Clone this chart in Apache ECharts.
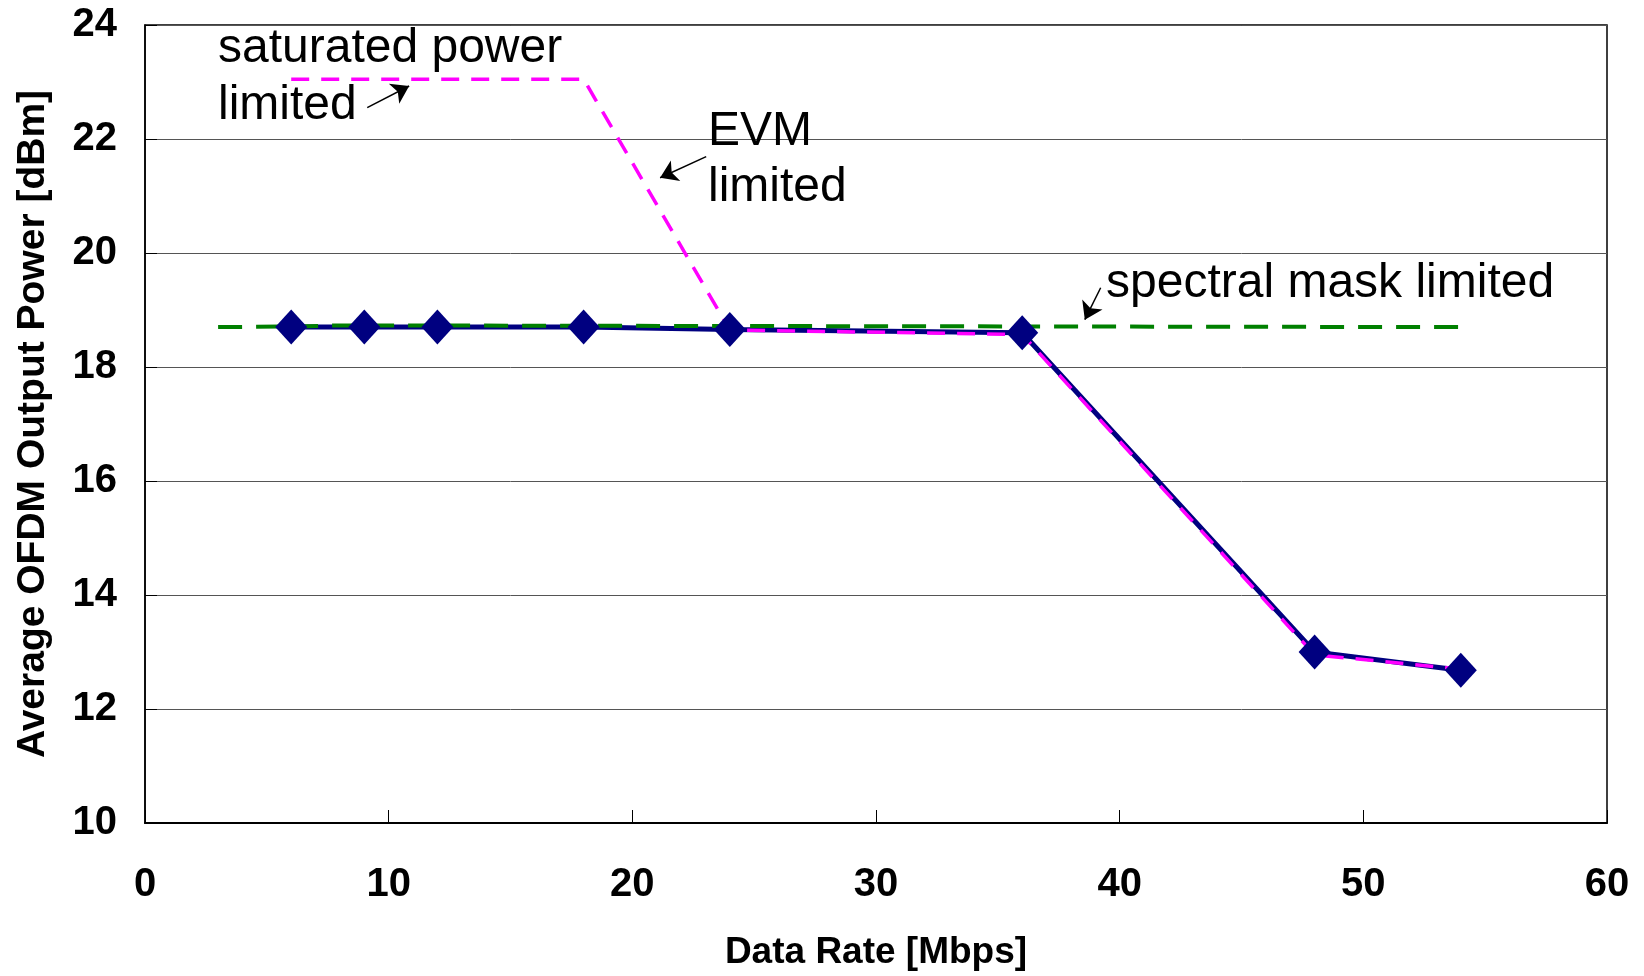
<!DOCTYPE html>
<html>
<head>
<meta charset="utf-8">
<script src="https://cdn.jsdelivr.net/npm/echarts@6/dist/echarts.min.js"></script>
<style>
html,body{margin:0;padding:0;background:#fff;}
#chart{width:1644px;height:976px;}
</style>
</head>
<body>
<div id="chart"></div>
<script>
// ---- data ----
const measuredRate  = [6, 9, 12, 18, 24, 36, 48, 54];
const measuredPower = [18.7, 18.7, 18.7, 18.7, 18.66, 18.6, 13.0, 12.68];

const evmRate  = [6, 18, 24, 36, 48, 54];
const evmPower = [23.05, 23.05, 18.65, 18.57, 12.95, 12.7];

const maskRate  = [3, 6, 8, 54];
const maskPower = [18.7, 18.71, 18.73, 18.7];

const yTicks = [10, 12, 14, 16, 18, 20, 22, 24];
const xTicks = [0, 10, 20, 30, 40, 50, 60];

// annotation arrows: [tailX, tailY, headX, headY] in data units
const arrowSaturated = [9.12, 22.55, 10.84, 22.93];
const arrowEvm       = [23.03, 21.69, 21.14, 21.32];
const arrowMask      = [39.22, 19.39, 38.57, 18.83];

const zip = (xs, ys) => xs.map((x, i) => [x, ys[i]]);
const arrow = a => [{coord: [a[0], a[1]]}, {coord: [a[2], a[3]]}];

const FONT = "'Liberation Sans', Arial, Helvetica, sans-serif";

const chart = echarts.init(document.getElementById('chart'), null, {renderer: 'canvas'});
chart.setOption({
  animation: false,
  backgroundColor: '#fff',
  grid: {left: 145, right: 37, top: 25, bottom: 153, show: true,
         borderColor: '#000', borderWidth: 1.5, backgroundColor: 'transparent'},
  xAxis: {
    type: 'value', min: xTicks[0], max: xTicks[xTicks.length - 1], interval: 10,
    name: 'Data Rate [Mbps]', nameLocation: 'middle', nameGap: 111,
    nameTextStyle: {fontFamily: FONT, fontWeight: 'bold', fontSize: 37, color: '#000'},
    axisLine: {show: true, lineStyle: {color: '#000', width: 2}},
    axisTick: {show: true, inside: true, length: 13, lineStyle: {color: '#000', width: 1}},
    axisLabel: {fontFamily: FONT, fontWeight: 'bold', fontSize: 40, color: '#000', margin: 42},
    splitLine: {show: false}
  },
  yAxis: {
    type: 'value', min: yTicks[0], max: yTicks[yTicks.length - 1], interval: 2,
    name: 'Average OFDM Output Power [dBm]', nameLocation: 'middle', nameGap: 92,
    nameTextStyle: {fontFamily: FONT, fontWeight: 'bold', fontSize: 39, color: '#000'},
    axisLine: {show: true, lineStyle: {color: '#000', width: 1.5}},
    axisTick: {show: true, inside: true, length: 12, lineStyle: {color: '#000', width: 1}},
    axisLabel: {fontFamily: FONT, fontWeight: 'bold', fontSize: 40, color: '#000', margin: 28},
    splitLine: {show: true, lineStyle: {color: '#555', width: 1}}
  },
  series: [
    {
      name: 'measured', type: 'line', data: zip(measuredRate, measuredPower),
      symbol: 'none', z: 2,
      lineStyle: {color: '#000080', width: 5}
    },
    {
      name: 'EVM', type: 'line', data: zip(evmRate, evmPower),
      symbol: 'none', z: 3,
      lineStyle: {color: '#FF00FF', width: 3.5, type: [18, 12]}
    },
    {
      name: 'mask', type: 'line', data: zip(maskRate, maskPower),
      symbol: 'none', z: 4,
      lineStyle: {color: '#008000', width: 4, type: [24, 14]}
    },
    {
      name: 'points', type: 'scatter', data: zip(measuredRate, measuredPower),
      symbol: 'diamond', symbolSize: [32, 35], z: 5,
      itemStyle: {color: '#000080', opacity: 1},
      markLine: {
        silent: true, symbol: ['none', 'arrow'], symbolSize: 17,
        lineStyle: {color: '#000', width: 1.5, type: 'solid'},
        label: {show: false},
        data: [arrow(arrowSaturated), arrow(arrowEvm), arrow(arrowMask)]
      }
    }
  ],
  graphic: [
    {type: 'text', left: 218, top: 20, z: 10,
     style: {text: 'saturated power\nlimited', font: "48px " + FONT, fill: '#000', lineHeight: 57}},
    {type: 'text', left: 708, top: 104, z: 10,
     style: {text: 'EVM\nlimited', font: "48px " + FONT, fill: '#000', lineHeight: 56}},
    {type: 'text', left: 1106, top: 260, z: 10,
     style: {text: 'spectral mask limited', font: "48px " + FONT, fill: '#000'}}
  ]
});
</script>
</body>
</html>
